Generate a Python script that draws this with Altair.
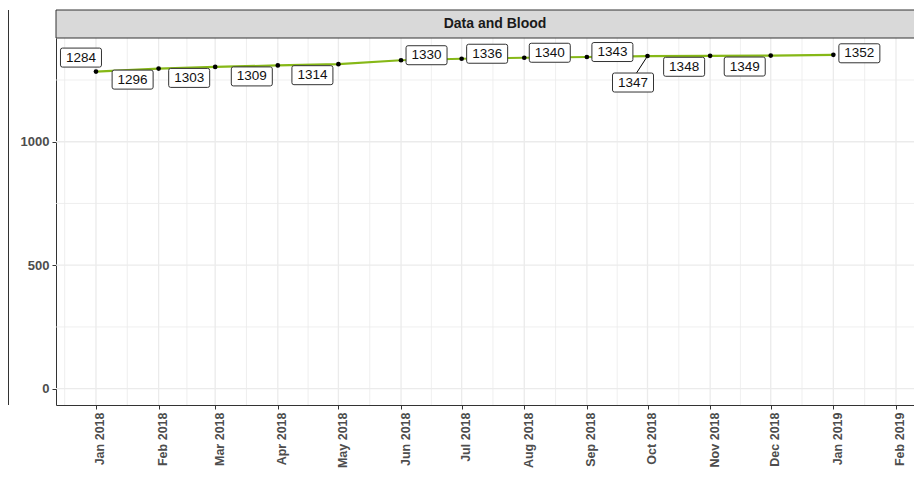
import altair as alt
import pandas as pd

# ---- data ----
months = ["2018-01-01", "2018-02-01", "2018-03-01", "2018-04-01", "2018-05-01",
          "2018-06-01", "2018-07-01", "2018-08-01", "2018-09-01", "2018-10-01",
          "2018-11-01", "2018-12-01", "2019-01-01"]
values = [1284, 1296, 1303, 1309, 1314, 1330, 1336, 1340, 1343, 1347, 1348, 1349, 1352]
placement = ["nw", "sw", "sw", "sw", "sw", "ne", "ne", "ne", "ne", "s", "sw", "sw", "e"]
panel_title = "Data and Blood"
tick_months = [d.strftime("%Y-%m-%d") for d in pd.date_range("2018-01-01", "2019-02-01", freq="MS")]
y_major = [0, 500, 1000]
y_minor = [250, 750, 1250]

# ---- styles ----
OFFSETS = {"nw": (-15, -14), "sw": (-26, 11), "ne": (25.5, -5), "s": (-14.5, 26.5), "e": (26, -1.5)}
BOX_W, BOX_H, BOX_R = 41, 19, 2
LINE_COL = "#86B817"
BORDER = "#333333"
GRID = "#EBEBEB"
FONT = "Liberation Sans"

W, H = 858, 367
x_dom = [alt.DateTime(year=2017, month=12, date=12, hours=5),
         alt.DateTime(year=2019, month=2, date=9, hours=22)]
dom_lo = pd.Timestamp("2017-12-12 05:00")
dom_hi = pd.Timestamp("2019-02-09 22:00")

df = pd.DataFrame({"date": pd.to_datetime(months), "value": values, "place": placement})

# grid data
maj = pd.to_datetime(tick_months)
starts = pd.date_range("2017-12-01", "2019-03-01", freq="MS")
mids = [starts[i] + (starts[i + 1] - starts[i]) / 2 for i in range(len(starts) - 1)]
mids = [m for m in mids if dom_lo <= m <= dom_hi]
grid_x_major = pd.DataFrame({"date": maj})
grid_x_minor = pd.DataFrame({"date": mids})
grid_y_major = pd.DataFrame({"v": y_major})
grid_y_minor = pd.DataFrame({"v": y_minor})

xscale = alt.Scale(domain=x_dom, nice=False)
yscale = alt.Scale(domain=[-66, 1420], nice=False, zero=False)

x_axis = alt.Axis(values=[alt.DateTime(year=int(d[:4]), month=int(d[5:7]), date=1) for d in tick_months],
                  format="%b %Y", labelAngle=270, title=None, grid=False,
                  labelFont=FONT, labelFontSize=12.5, labelFontWeight="bold", labelColor="#4D4D4D",
                  tickColor=BORDER, tickSize=4, tickWidth=1, domainColor=BORDER, domainWidth=1,
                  labelPadding=3, labelOffset=4, labelBaseline="middle")
y_axis = alt.Axis(values=y_major, format="d", title=None, grid=False,
                  labelFont=FONT, labelFontSize=13, labelFontWeight="bold", labelColor="#4D4D4D",
                  tickColor=BORDER, tickSize=4, tickWidth=1, domainColor=BORDER, domainWidth=1,
                  labelPadding=3)


def box_path(ox, oy, w=BOX_W, h=BOX_H, r=BOX_R):
    x0, x1 = ox - w / 2, ox + w / 2
    y0, y1 = oy - h / 2, oy + h / 2
    return (f"M{x0 + r},{y0}H{x1 - r}Q{x1},{y0} {x1},{y0 + r}V{y1 - r}Q{x1},{y1} {x1 - r},{y1}"
            f"H{x0 + r}Q{x0},{y1} {x0},{y1 - r}V{y0 + r}Q{x0},{y0} {x0 + r},{y0}Z")


gxmin = alt.Chart(grid_x_minor).mark_rule(color=GRID, strokeWidth=0.8, clip=True).encode(
    x=alt.X("date:T", scale=xscale, axis=x_axis))
gxmaj = alt.Chart(grid_x_major).mark_rule(color=GRID, strokeWidth=1.3, clip=True).encode(
    x=alt.X("date:T", scale=xscale))
gymin = alt.Chart(grid_y_minor).mark_rule(color=GRID, strokeWidth=0.8, clip=True).encode(
    y=alt.Y("v:Q", scale=yscale, axis=y_axis))
gymaj = alt.Chart(grid_y_major).mark_rule(color=GRID, strokeWidth=1.3, clip=True).encode(
    y=alt.Y("v:Q", scale=yscale))

strip_df = pd.DataFrame({"t": [panel_title]})
strip = alt.Chart(strip_df).mark_rect(fill="#D9D9D9", stroke=BORDER, strokeWidth=1).encode(
    x=alt.value(0), x2=alt.value(W + 10), y=alt.value(-28), y2=alt.value(0))
strip_text = alt.Chart(strip_df).mark_text(font=FONT, fontSize=14, fontWeight="bold",
                                           color="#1A1A1A", baseline="middle").encode(
    x=alt.value(439), y=alt.value(-14), text="t:N")
left_panel = alt.Chart(strip_df).mark_rule(color=BORDER, strokeWidth=1).encode(
    x=alt.value(-47.5), y=alt.value(-28), y2=alt.value(H))

base = alt.Chart(df).encode(x=alt.X("date:T", scale=xscale), y=alt.Y("value:Q", scale=yscale))
line = base.mark_line(color=LINE_COL, strokeWidth=2.2)
points = base.mark_circle(color="black", size=22, opacity=1)

seg = base.transform_filter(alt.datum.place == "s").mark_point(
    shape="M0,0L-11,17", size=4, filled=False, stroke="black", strokeWidth=1, opacity=1)

label_layers = []
for key, (ox, oy) in OFFSETS.items():
    sub = base.transform_filter(alt.datum.place == key)
    label_layers.append(sub.mark_point(shape=box_path(ox, oy), size=4, filled=True, fill="white",
                                       stroke=BORDER, strokeWidth=1, opacity=1, fillOpacity=1,
                                       strokeOpacity=1))
    label_layers.append(sub.mark_text(dx=ox, dy=oy, font=FONT, fontSize=13.5, color="#111111",
                                      baseline="middle", align="center").encode(text="value:Q"))

chart = alt.layer(gxmin, gxmaj, gymin, gymaj, strip, left_panel, line, seg, points,
                  *label_layers, strip_text).properties(
    width=W, height=H,
    padding={"left": 48, "top": 30, "right": 0, "bottom": 70},
    autosize=alt.AutoSizeParams(type="none"),
    background="white",
).configure_view(stroke=None)

chart.save("out.html", embed_options={"renderer": "svg", "actions": False})
